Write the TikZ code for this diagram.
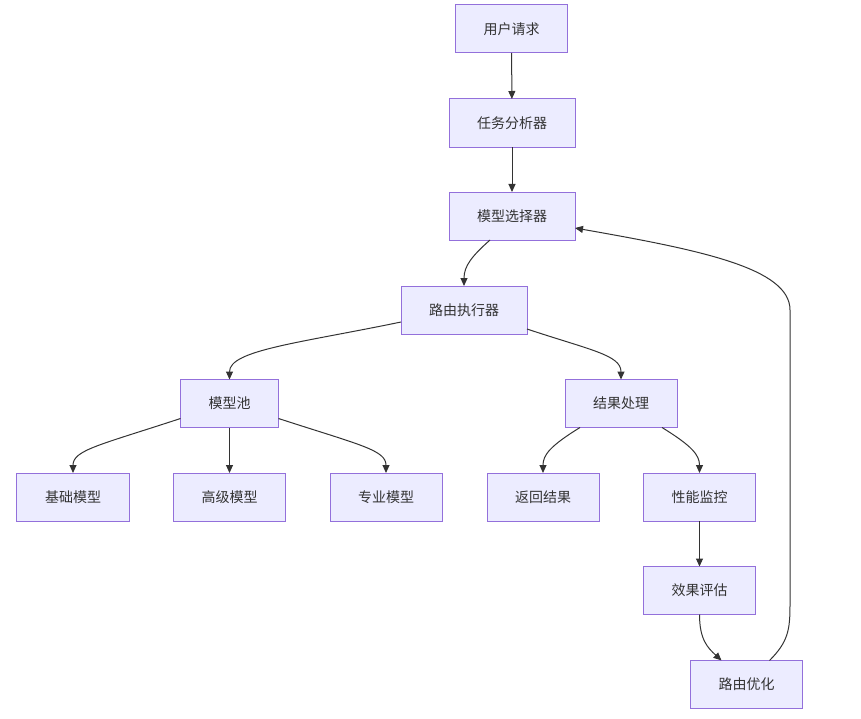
\documentclass[tikz,border=0pt]{standalone}
\usepackage{fontspec}
\setmainfont{Noto Sans CJK SC}
\usetikzlibrary{arrows.meta}
\definecolor{nodefill}{HTML}{ECECFF}
\definecolor{nodeline}{HTML}{9370DB}
\definecolor{edgecol}{HTML}{333333}
\tikzset{
  box/.style={rectangle, draw=nodeline, fill=nodefill, line width=1bp,
    inner xsep=28bp, inner ysep=0bp, minimum height=48bp, outer sep=0pt,
    text=edgecol, font=\fontsize{14bp}{16bp}\selectfont},
  link/.style={draw=edgecol, line width=1bp, -{Triangle[length=8bp,width=7bp]}}
}
\begin{document}
\begin{tikzpicture}[x=1bp, y=-1bp]
\useasboundingbox (0,0) rectangle (861,719);
\node[box] (req) at (511.5,29) {用户请求};
\node[box] (ana) at (512,123) {任务分析器};
\node[box] (sel) at (512,216) {模型选择器};
\node[box] (exe) at (464,310) {路由执行器};
\node[box] (pool) at (229.5,403.5) {模型池};
\node[box] (res) at (621,403.5) {结果处理};
\node[box] (basic) at (73,497) {基础模型};
\node[box] (adv) at (229.5,497) {高级模型};
\node[box] (pro) at (386,497) {专业模型};
\node[box] (ret) at (543,497) {返回结果};
\node[box] (mon) at (699.5,497) {性能监控};
\node[box] (eva) at (699.5,590.5) {效果评估};
\node[box] (opt) at (746.5,684.5) {路由优化};

\draw[link] (req) -- (ana);
\draw[link] (ana) -- (sel);
\draw[link] ([xshift=-22bp]sel.south) .. controls (472,256) and (464,266) .. (exe.north);
\draw[link] ([yshift=-12bp]exe.west) .. controls (300,343) and (229.5,350) .. (pool.north);
\draw[link] ([yshift=-19bp]exe.east) .. controls (590,350) and (621,355) .. (res.north);
\draw[link] ([yshift=-15bp]pool.west) .. controls (100,445) and (73,450) .. (basic.north);
\draw[link] (pool) -- (adv);
\draw[link] ([yshift=-15bp]pool.east) .. controls (360,445) and (386,450) .. (pro.north);
\draw[link] ([xshift=-41bp]res.south) .. controls (550,446) and (543,455) .. (ret.north);
\draw[link] ([xshift=41bp]res.south) .. controls (692,446) and (699.5,455) .. (mon.north);
\draw[link] (mon) -- (eva);
\draw[link] (eva.south) .. controls (699.5,640) and (708,648) .. ([xshift=-25bp]opt.north);
\draw[link] ([xshift=23bp]opt.north) .. controls (788,642) and (790,630) .. (790,605)
  -- (790,310) .. controls (790,268) and (700,250) .. ([yshift=-12bp]sel.east);
\end{tikzpicture}
\end{document}
